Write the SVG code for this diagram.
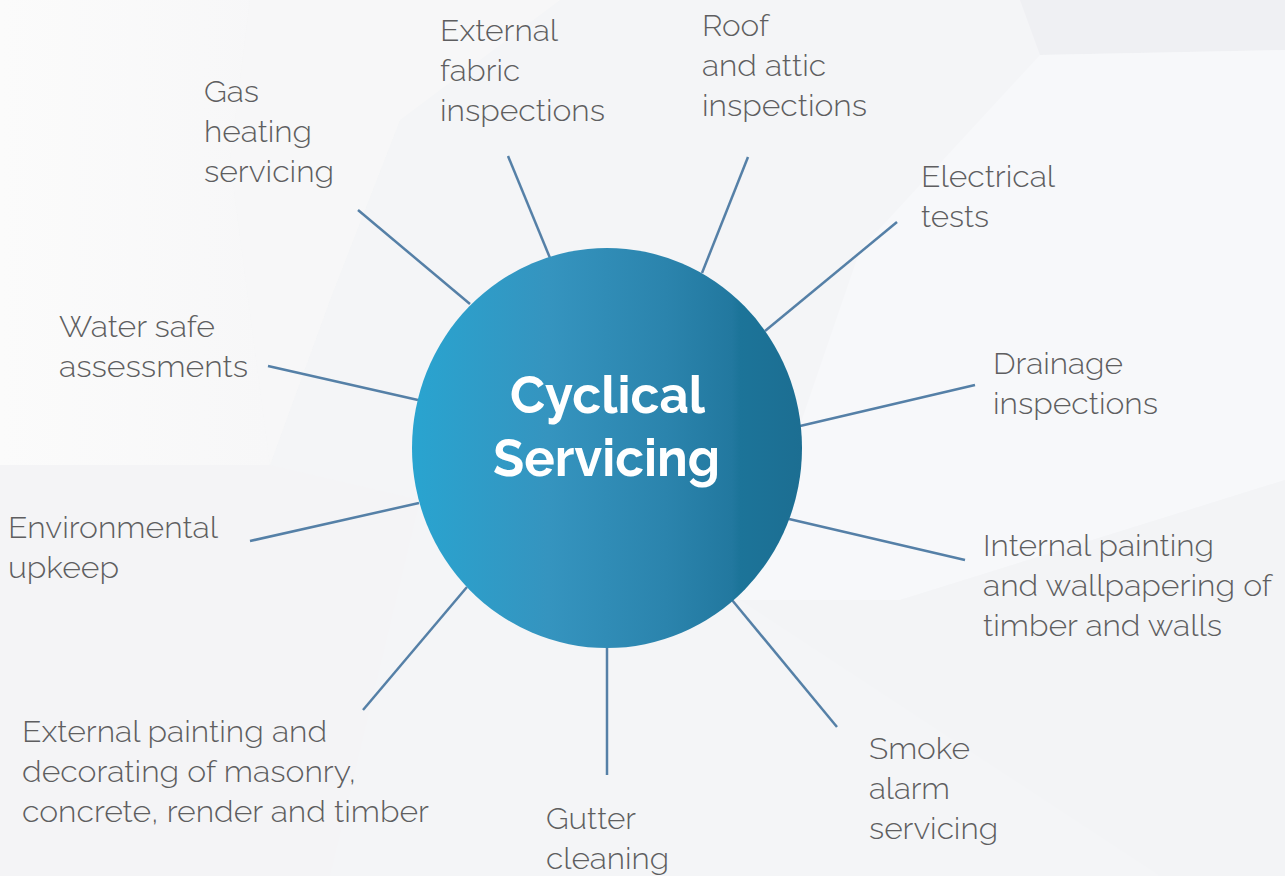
<svg xmlns="http://www.w3.org/2000/svg" width="1285" height="876" viewBox="0 0 1285 876">
  <defs>
    <linearGradient id="hub" x1="0" y1="0" x2="1" y2="0">
      <stop offset="0" stop-color="#29a4d0"/>
      <stop offset="0.35" stop-color="#3594bf"/>
      <stop offset="0.65" stop-color="#2b84ad"/>
      <stop offset="0.82" stop-color="#22789f"/>
      <stop offset="0.84" stop-color="#1c7499"/>
      <stop offset="1" stop-color="#1c6e92"/>
    </linearGradient>
    <linearGradient id="leftGlow" x1="0" y1="0" x2="1" y2="0">
      <stop offset="0" stop-color="#fbfbfb"/>
      <stop offset="1" stop-color="#f7f7f8"/>
    </linearGradient>
  </defs>
  <style>
    .lbl { font-family: "Raleway", "Lato", "Open Sans", sans-serif; font-weight: 300; font-size: 30px; fill: #5e5e60; }
    .title { font-family: "Raleway", "Lato", "Open Sans", sans-serif; font-weight: 700; font-size: 52px; fill: #ffffff; }
    .conn line { stroke: #5580a7; stroke-width: 2.5; stroke-linecap: butt; }
  </style>

  <!-- background -->
  <g id="background">
    <rect x="0" y="0" width="1285" height="876" fill="#f4f5f7"/>
    <polygon points="0,0 250,0 230,160 270,465 0,465" fill="url(#leftGlow)"/>
    <polygon points="250,0 560,0 400,120 330,300 270,465 230,160" fill="#f7f7f8" opacity="0.8"/>
    <polygon points="1020,0 1285,0 1285,50 1040,55" fill="#eff0f3"/>
    <polygon points="1040,55 1285,50 1285,480 900,600 740,600 860,250" fill="#f7f8fa"/>
    <polygon points="740,600 900,600 1285,480 1285,876 1160,876" fill="#f3f4f6"/>
    <polygon points="0,465 270,465 420,500 330,876 0,876" fill="#f4f4f6"/>
  </g>

  <!-- connectors -->
  <g id="connectors" class="conn">
    <line x1="358" y1="210" x2="470" y2="304"/>
    <line x1="508" y1="156" x2="550" y2="258"/>
    <line x1="748" y1="157" x2="702" y2="273"/>
    <line x1="897" y1="222" x2="765" y2="331"/>
    <line x1="975" y1="385" x2="800" y2="426"/>
    <line x1="965" y1="560" x2="789" y2="519"/>
    <line x1="837" y1="727" x2="732" y2="600"/>
    <line x1="607" y1="775" x2="607" y2="646"/>
    <line x1="363" y1="710" x2="467" y2="587"/>
    <line x1="250" y1="541" x2="419" y2="503"/>
    <line x1="268" y1="366" x2="418" y2="400"/>
  </g>

  <!-- hub -->
  <g id="hub-node">
    <ellipse cx="607" cy="448" rx="195" ry="200" fill="url(#hub)"/>
    <text class="title" x="510" y="413" textLength="195" lengthAdjust="spacingAndGlyphs">Cyclical</text>
    <text class="title" x="493" y="476" textLength="227" lengthAdjust="spacingAndGlyphs">Servicing</text>
  </g>

  <g id="gas-heating">
    <text class="lbl" x="204" y="102" textLength="55" lengthAdjust="spacingAndGlyphs">Gas</text>
    <text class="lbl" x="204" y="142" textLength="108" lengthAdjust="spacingAndGlyphs">heating</text>
    <text class="lbl" x="204" y="182" textLength="130" lengthAdjust="spacingAndGlyphs">servicing</text>
  </g>
  <g id="external-fabric">
    <text class="lbl" x="440" y="41" textLength="118" lengthAdjust="spacingAndGlyphs">External</text>
    <text class="lbl" x="440" y="81" textLength="80" lengthAdjust="spacingAndGlyphs">fabric</text>
    <text class="lbl" x="440" y="121" textLength="165" lengthAdjust="spacingAndGlyphs">inspections</text>
  </g>
  <g id="roof-attic">
    <text class="lbl" x="702" y="36" textLength="67" lengthAdjust="spacingAndGlyphs">Roof</text>
    <text class="lbl" x="702" y="76" textLength="124" lengthAdjust="spacingAndGlyphs">and attic</text>
    <text class="lbl" x="702" y="116" textLength="165" lengthAdjust="spacingAndGlyphs">inspections</text>
  </g>
  <g id="electrical">
    <text class="lbl" x="921" y="187" textLength="134" lengthAdjust="spacingAndGlyphs">Electrical</text>
    <text class="lbl" x="921" y="227" textLength="68" lengthAdjust="spacingAndGlyphs">tests</text>
  </g>
  <g id="drainage">
    <text class="lbl" x="993" y="374" textLength="130" lengthAdjust="spacingAndGlyphs">Drainage</text>
    <text class="lbl" x="993" y="414" textLength="165" lengthAdjust="spacingAndGlyphs">inspections</text>
  </g>
  <g id="internal-painting">
    <text class="lbl" x="983" y="556" textLength="231" lengthAdjust="spacingAndGlyphs">Internal painting</text>
    <text class="lbl" x="983" y="596" textLength="289" lengthAdjust="spacingAndGlyphs">and wallpapering of</text>
    <text class="lbl" x="983" y="636" textLength="239" lengthAdjust="spacingAndGlyphs">timber and walls</text>
  </g>
  <g id="smoke-alarm">
    <text class="lbl" x="869" y="759" textLength="101" lengthAdjust="spacingAndGlyphs">Smoke</text>
    <text class="lbl" x="869" y="799" textLength="81" lengthAdjust="spacingAndGlyphs">alarm</text>
    <text class="lbl" x="869" y="839" textLength="129" lengthAdjust="spacingAndGlyphs">servicing</text>
  </g>
  <g id="gutter">
    <text class="lbl" x="546" y="829" textLength="90" lengthAdjust="spacingAndGlyphs">Gutter</text>
    <text class="lbl" x="546" y="869" textLength="123" lengthAdjust="spacingAndGlyphs">cleaning</text>
  </g>
  <g id="external-painting">
    <text class="lbl" x="22" y="742" textLength="305" lengthAdjust="spacingAndGlyphs">External painting and</text>
    <text class="lbl" x="22" y="782" textLength="334" lengthAdjust="spacingAndGlyphs">decorating of masonry,</text>
    <text class="lbl" x="22" y="822" textLength="407" lengthAdjust="spacingAndGlyphs">concrete, render and timber</text>
  </g>
  <g id="environmental">
    <text class="lbl" x="8" y="538" textLength="210" lengthAdjust="spacingAndGlyphs">Environmental</text>
    <text class="lbl" x="8" y="578" textLength="111" lengthAdjust="spacingAndGlyphs">upkeep</text>
  </g>
  <g id="water-safe">
    <text class="lbl" x="59" y="337" textLength="156" lengthAdjust="spacingAndGlyphs">Water safe</text>
    <text class="lbl" x="59" y="377" textLength="189" lengthAdjust="spacingAndGlyphs">assessments</text>
  </g>
</svg>
